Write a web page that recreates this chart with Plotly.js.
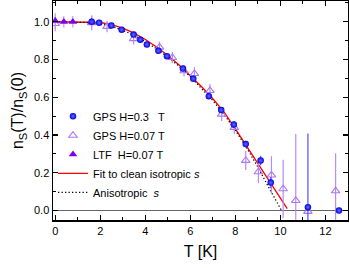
<!DOCTYPE html>
<html>
<head>
<meta charset="utf-8">
<script src="https://cdn.plot.ly/plotly-3.0.1.min.js"></script>
<style>html,body{margin:0;padding:0;background:#fff;}#plot{width:349px;height:268px;}</style>
</head>
<body>
<div id="plot"></div>
<script>
// GPS H=0.3 T (blue circles)
var gps03X = [1.62, 1.95, 2.49, 2.95, 3.48, 3.78, 4.07, 4.58, 4.96, 5.67, 6.13, 6.82, 7.37, 7.93, 8.46, 9.12, 9.57, 11.22, 12.6];
var gps03Y = [1.0, 0.995, 0.98, 0.958, 0.932, 0.905, 0.88, 0.846, 0.818, 0.752, 0.698, 0.606, 0.532, 0.456, 0.352, 0.265, 0.148, 0.018, 0.0];
var gps03Err = [0.01, 0.01, 0.01, 0.01, 0.012, 0.012, 0.012, 0.012, 0.012, 0.015, 0.015, 0.015, 0.015, 0.015, 0.018, 0.025, 0.03, 0.39, 0.0];

// GPS H=0.07 T (open purple triangles)
var gps007X = [0.0, 1.62, 2.3, 3.48, 4.63, 5.2, 5.72, 6.18, 6.87, 7.39, 7.95, 8.46, 9.02, 9.6, 10.12, 10.68, 11.22, 12.45];
var gps007Y = [0.99, 0.995, 0.975, 0.91, 0.865, 0.81, 0.74, 0.725, 0.635, 0.51, 0.44, 0.265, 0.205, 0.188, 0.115, 0.053, -0.005, 0.104];
var gps007Err = [0.04, 0.04, 0.03, 0.03, 0.03, 0.03, 0.03, 0.035, 0.035, 0.035, 0.035, 0.05, 0.06, 0.1, 0.154, 0.353, 0.0, 0.2];

// LTF H=0.07 T (filled purple triangles)
var ltfX = [0.0, 0.38, 0.78, 1.62];
var ltfY = [1.005, 1.0, 1.0, 1.0];
var ltfErr = [0.04, 0.03, 0.03, 0.03];

// Fit to clean isotropic s (red line)
var fitX = [0, 0.5, 1, 1.5, 2, 2.5, 3, 3.5, 4, 4.5, 5, 5.5, 6, 6.5, 7, 7.5, 8, 8.5, 9, 9.5, 10, 10.3];
var fitY = [1.0, 1.0, 1.0, 0.999, 0.996, 0.985, 0.966, 0.94, 0.906, 0.866, 0.821, 0.771, 0.716, 0.656, 0.592, 0.521, 0.433, 0.34, 0.248, 0.155, 0.064, 0.01];

// Anisotropic s (black dotted line)
var anisoX = [0, 0.5, 1, 1.5, 2, 2.5, 3, 3.5, 4, 4.5, 5, 5.5, 6, 6.5, 7, 7.5, 8, 8.5, 9, 9.5, 10.05];
var anisoY = [1.0, 1.0, 0.999, 0.996, 0.99, 0.976, 0.955, 0.928, 0.895, 0.857, 0.813, 0.764, 0.709, 0.648, 0.582, 0.508, 0.425, 0.332, 0.23, 0.118, 0.0];

var FONT = 'Liberation Sans, Arial, sans-serif';

var traces = [
  {x: fitX, y: fitY, mode: 'lines', name: 'Fit to clean isotropic <i>s</i>', legendrank: 4,
   line: {color: '#ff0000', width: 1.3}},
  {x: anisoX, y: anisoY, mode: 'lines', name: 'Anisotropic\u00a0 <i>s</i>', legendrank: 5,
   line: {color: '#000000', width: 1.2, dash: '1.3px,2.2px'}},
  {x: gps007X, y: gps007Y, mode: 'markers', name: 'GPS H=0.07 T', legendrank: 2,
   marker: {symbol: 'triangle-up-open', size: 7.5, color: '#a878f8', line: {width: 1.1}},
   error_y: {type: 'data', array: gps007Err, visible: true, color: '#b68cf5', thickness: 1.2, width: 0}},
  {x: ltfX, y: ltfY, mode: 'markers', name: 'LTF\u00a0 H=0.07 T', legendrank: 3,
   marker: {symbol: 'triangle-up', size: 7.5, color: '#7f00ee'},
   error_y: {type: 'data', array: ltfErr, visible: true, color: '#c09af5', thickness: 1.2, width: 0}},
  {x: gps03X, y: gps03Y, mode: 'markers', name: 'GPS H=0.3\u00a0\u00a0 T', legendrank: 1,
   marker: {symbol: 'circle', size: 6.5, color: '#0000e6', gradient: {type: 'radial', color: '#6a6aff'}},
   error_y: {type: 'data', array: gps03Err, visible: true, color: '#5050ff', thickness: 1.2, width: 0}}
];

var axisCommon = {
  showline: true, linecolor: '#000', linewidth: 1.5, mirror: 'ticks',
  ticks: 'inside', ticklen: 5, tickwidth: 1.2, tickcolor: '#000',
  showgrid: false,
  tickfont: {family: FONT, size: 11, color: '#000'}
};

var layout = {
  width: 349, height: 268,
  margin: {l: 53, r: 1, t: 1, b: 48},
  paper_bgcolor: '#fff', plot_bgcolor: '#fff',
  font: {family: FONT, color: '#000'},
  showlegend: true,
  legend: {x: 0.0, xanchor: 'left', y: 0.30, yanchor: 'middle', bgcolor: 'rgba(0,0,0,0)',
           borderwidth: 0, font: {family: FONT, size: 11, color: '#000'}, itemwidth: 30},
  xaxis: Object.assign({}, axisCommon, {
    range: [-0.1, 13], dtick: 2, tick0: 0, zeroline: false,
    minor: {dtick: 1, ticklen: 3, tickwidth: 1, ticks: 'inside', tickcolor: '#000', showgrid: false},
    title: {text: 'T [K]', font: {family: FONT, size: 16}, standoff: 10}
  }),
  yaxis: Object.assign({}, axisCommon, {
    range: [-0.05, 1.11], dtick: 0.2, tick0: 0, tickformat: '.1f',
    zeroline: true, zerolinecolor: '#666', zerolinewidth: 1,
    minor: {dtick: 0.1, ticklen: 3, tickwidth: 1, ticks: 'inside', tickcolor: '#000', showgrid: false},
    title: {text: 'n<sub>S</sub>(T)/n<sub>S</sub>(0)', font: {family: FONT, size: 16}, standoff: 6}
  })
};

Plotly.newPlot('plot', traces, layout, {displayModeBar: false, staticPlot: true});
</script>
</body>
</html>
